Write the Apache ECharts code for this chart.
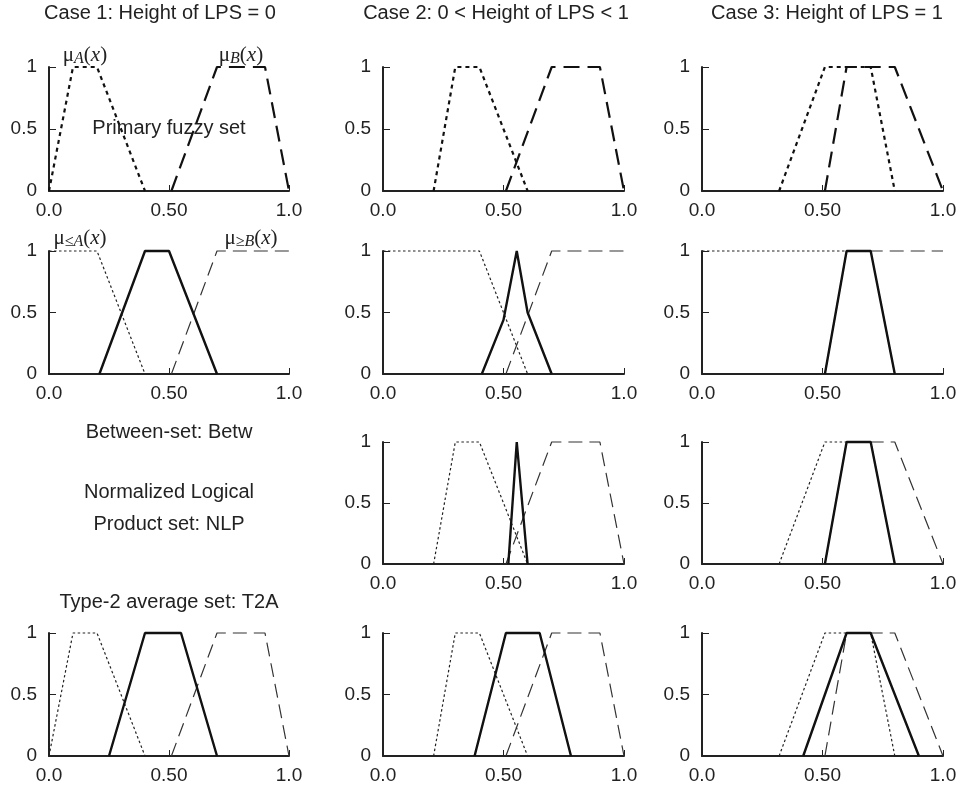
<!DOCTYPE html>
<html>
<head>
<meta charset="utf-8">
<script src="https://cdn.jsdelivr.net/npm/echarts@6/dist/echarts.min.js"></script>
<style>
  html, body { margin: 0; padding: 0; background: #fff; }
  #chart { width: 962px; height: 794px; }
</style>
</head>
<body>
<div id="chart"></div>
<script>
// tick labels
const xTickLabels = ['0.0', '0.50', '1.0']
const yTickLabels = ['0', '0.5', '1']

// primary fuzzy sets A (dotted) and B (dashed), per case
const c1A = [[0, 0], [0.1, 1], [0.2, 1], [0.4, 0]]
const c1B = [[0.51, 0], [0.7, 1], [0.9, 1], [1, 0]]
const c2A = [[0.21, 0], [0.3, 1], [0.4, 1], [0.6, 0]]
const c2B = [[0.51, 0], [0.7, 1], [0.9, 1], [1, 0]]
const c3A = [[0.32, 0], [0.51, 1], [0.7, 1], [0.8, 0]]
const c3B = [[0.51, 0], [0.6, 1], [0.8, 1], [1, 0]]

// mu<=A, mu>=B and Betw
const c1LeA = [[0, 1], [0.2, 1], [0.4, 0]]
const c1GeB = [[0.51, 0], [0.7, 1], [1, 1]]
const c1Betw = [[0.21, 0], [0.4, 1], [0.5, 1], [0.7, 0]]
const c2LeA = [[0, 1], [0.4, 1], [0.6, 0]]
const c2GeB = [[0.51, 0], [0.7, 1], [1, 1]]
const c2Betw = [[0.41, 0], [0.5, 0.44], [0.555, 1], [0.6, 0.5], [0.7, 0]]
const c3LeA = [[0, 1], [0.7, 1], [0.8, 0]]
const c3GeB = [[0.51, 0], [0.6, 1], [1, 1]]
const c3Betw = [[0.51, 0], [0.6, 1], [0.7, 1], [0.8, 0]]

// NLP
const c2Nlp = [[0.52, 0], [0.555, 1], [0.6, 0]]
const c3Nlp = [[0.51, 0], [0.6, 1], [0.7, 1], [0.8, 0]]

// T2A
const c1T2a = [[0.25, 0], [0.4, 1], [0.55, 1], [0.7, 0]]
const c2T2a = [[0.38, 0], [0.51, 1], [0.65, 1], [0.78, 0]]
const c3T2a = [[0.42, 0], [0.6, 1], [0.7, 1], [0.9, 0]]

const thickDot = { color: '#111', width: 2.2, type: [4, 4] }
const thickDash = { color: '#111', width: 2.2, type: [16, 8] }
const thinDot = { color: '#222', width: 1.2, type: [2.5, 2.5] }
const thinDash = { color: '#333', width: 1.2, type: [14, 7] }
const solid = { color: '#111', width: 2.4 }

const colLeft = [49, 383, 702]
const colWidth = [240, 241, 241]
const rowTop = [67, 251, 442, 633]
const rowHeight = [124, 123, 122, 123]

const panels = [
  { r: 0, c: 0, lines: [[c1A, thickDot], [c1B, thickDash]] },
  { r: 0, c: 1, lines: [[c2A, thickDot], [c2B, thickDash]] },
  { r: 0, c: 2, lines: [[c3A, thickDot], [c3B, thickDash]] },
  { r: 1, c: 0, lines: [[c1LeA, thinDot], [c1GeB, thinDash], [c1Betw, solid]] },
  { r: 1, c: 1, lines: [[c2LeA, thinDot], [c2GeB, thinDash], [c2Betw, solid]] },
  { r: 1, c: 2, lines: [[c3LeA, thinDot], [c3GeB, thinDash], [c3Betw, solid]] },
  { r: 2, c: 1, lines: [[c2A, thinDot], [c2B, thinDash], [c2Nlp, solid]] },
  { r: 2, c: 2, lines: [[c3A, thinDot], [c3B, thinDash], [c3Nlp, solid]] },
  { r: 3, c: 0, lines: [[c1A, thinDot], [c1B, thinDash], [c1T2a, solid]] },
  { r: 3, c: 1, lines: [[c2A, thinDot], [c2B, thinDash], [c2T2a, solid]] },
  { r: 3, c: 2, lines: [[c3A, thinDot], [c3B, thinDash], [c3T2a, solid]] }
]

const font = 'Liberation Sans'
const serif = 'Liberation Serif'
const axisColor = '#222'

const grid = [], xAxis = [], yAxis = [], series = []
panels.forEach((p, i) => {
  grid.push({ left: colLeft[p.c], top: rowTop[p.r], width: colWidth[p.c], height: rowHeight[p.r] })
  xAxis.push({
    type: 'value', gridIndex: i, min: 0, max: 1, interval: 0.5,
    splitLine: { show: false },
    axisLine: { lineStyle: { color: axisColor, width: 2 } },
    axisTick: { inside: true, length: 6, lineStyle: { color: axisColor, width: 1 } },
    axisLabel: { margin: 10, fontSize: 19, fontFamily: font, color: '#222', formatter: (v, idx) => xTickLabels[idx] }
  })
  yAxis.push({
    type: 'value', gridIndex: i, min: 0, max: 1, interval: 0.5,
    splitLine: { show: false },
    axisLine: { show: true, lineStyle: { color: axisColor, width: 2 } },
    axisTick: { show: true, inside: true, length: 7, lineStyle: { color: axisColor, width: 1 } },
    axisLabel: { margin: 12, fontSize: 19, fontFamily: font, color: '#222', formatter: (v, idx) => yTickLabels[idx] }
  })
  p.lines.forEach(([data, style]) => {
    series.push({
      type: 'line', xAxisIndex: i, yAxisIndex: i, data,
      symbol: 'none', clip: false, lineStyle: style, z: style === solid ? 3 : 2,
      silent: true
    })
  })
})

const txt = (x, y, text) => ({
  type: 'text', x, y,
  style: { text, fontFamily: font, fontSize: 20, fill: '#222', align: 'center', verticalAlign: 'middle' }
})

const muRich = {
  m: { fontFamily: serif, fontSize: 21, lineHeight: 24, verticalAlign: 'middle', fill: '#222', color: '#222' },
  s: { fontFamily: serif, fontSize: 16, fontStyle: 'italic', lineHeight: 24, verticalAlign: 'bottom', fill: '#222', color: '#222' },
  i: { fontFamily: serif, fontSize: 21, fontStyle: 'italic', lineHeight: 24, verticalAlign: 'middle', fill: '#222', color: '#222' }
}
const mu = (x, y, sub) => ({
  type: 'text', x, y,
  style: { text: '{m|μ}{s|' + sub + '}{m|(}{i|x}{m|)}', rich: muRich, align: 'center', verticalAlign: 'middle' }
})

const graphic = [
  txt(160, 13, 'Case 1: Height of LPS = 0'),
  txt(496, 13, 'Case 2: 0 < Height of LPS < 1'),
  txt(827, 13, 'Case 3: Height of LPS = 1'),
  txt(169, 128, 'Primary fuzzy set'),
  txt(169, 432, 'Between-set: Betw'),
  txt(169, 492, 'Normalized Logical'),
  txt(169, 524, 'Product set: NLP'),
  txt(169, 602, 'Type-2 average set: T2A'),
  mu(85, 55, 'A'),
  mu(241, 55, 'B'),
  mu(80, 238, '≤A'),
  mu(251, 238, '≥B')
]

const chart = echarts.init(document.getElementById('chart'))
chart.setOption({
  animation: false,
  backgroundColor: '#fff',
  grid, xAxis, yAxis, series, graphic
})
</script>
</body>
</html>
